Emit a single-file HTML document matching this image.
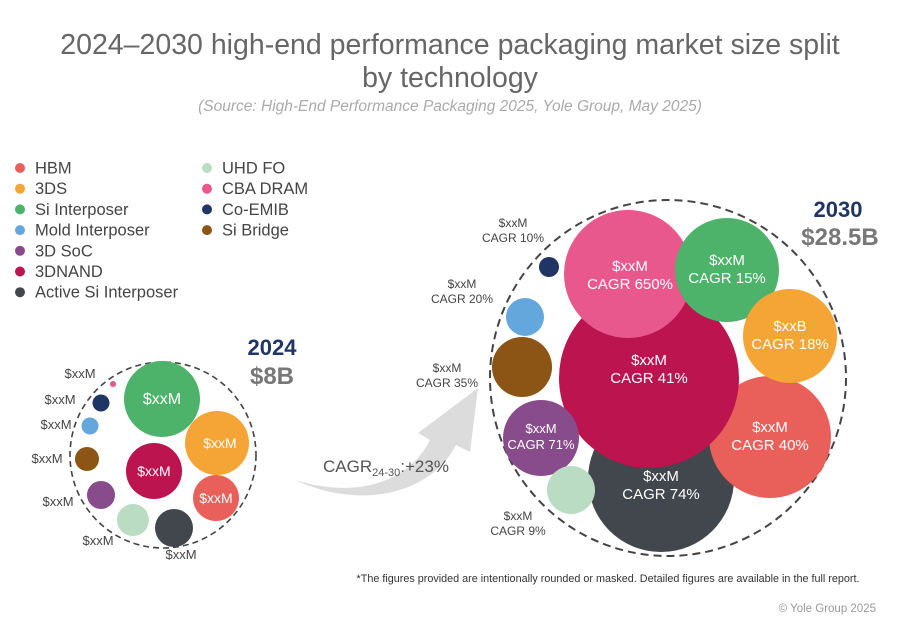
<!DOCTYPE html>
<html><head><meta charset="utf-8">
<style>
html,body{margin:0;padding:0;background:#fff;}
body{width:900px;height:630px;overflow:hidden;font-family:"Liberation Sans",sans-serif;}
svg{display:block}
</style></head>
<body>
<svg id="chart" width="900" height="630" viewBox="0 0 900 630" xmlns="http://www.w3.org/2000/svg">
<text x="450" y="54" text-anchor="middle" font-size="28.5" fill="#666">2024–2030 high-end performance packaging market size split</text>
<text x="450" y="87" text-anchor="middle" font-size="28.5" fill="#666">by technology</text>
<text x="450" y="111" text-anchor="middle" font-size="15.5" font-style="italic" fill="#aaa">(Source: High-End Performance Packaging 2025, Yole Group, May 2025)</text>
<g id="legend"></g>
<path d="M295,480 C360,500 410,480 430,440 L418,433 L478,388 L470,452 L456,445 C430,495 360,510 295,480 Z" fill="#dcdcdc"/>
<text x="323" y="472" font-size="17" fill="#555">CAGR<tspan font-size="11" dy="4">24-30</tspan><tspan dy="-4">:+23%</tspan></text>
<circle cx="163" cy="455" r="93" fill="none" stroke="#444" stroke-width="1.6" stroke-dasharray="6,4"/>
<circle cx="668" cy="378" r="178" fill="none" stroke="#444" stroke-width="2" stroke-dasharray="8,5"/>
<g id="b24"></g>
<g id="b30"></g>
<text x="272" y="355" text-anchor="middle" font-size="22" font-weight="bold" fill="#1f3564">2024</text>
<text x="272" y="384" text-anchor="middle" font-size="24" font-weight="bold" fill="#777">$8B</text>
<text x="838" y="217" text-anchor="middle" font-size="22" font-weight="bold" fill="#1f3564">2030</text>
<text x="840" y="245" text-anchor="middle" font-size="24" font-weight="bold" fill="#777">$28.5B</text>
<text x="608" y="582" text-anchor="middle" font-size="10.8" fill="#333">*The figures provided are intentionally rounded or masked. Detailed figures are available in the full report.</text>
<text x="876" y="612" text-anchor="end" font-size="11.5" fill="#999">© Yole Group 2025</text>
</svg>
<script>
const technologies=["HBM","3DS","Si Interposer","Mold Interposer","3D SoC","3DNAND","Active Si Interposer","UHD FO","CBA DRAM","Co-EMIB","Si Bridge"];
const colors=["#e9605a","#f4a535","#4db26a","#63a7dc","#884c8c","#bb144e","#41474d","#b9dcc2","#e8588d","#1f3564","#8c5415"];
const values2024=[865,1675,2362,118,321,1283,591,419,15,118,236];
const values2030=[3591,2132,2609,348,1393,7817,5142,556,3953,97,869];
const cagr2030=["40%","18%","15%","20%","71%","41%","74%","9%","650%","10%","35%"];
const value2030Labels=["$xxM","$xxB","$xxM","$xxM","$xxM","$xxM","$xxM","$xxM","$xxM","$xxM","$xxM"];
</script>
<script>
const NS="http://www.w3.org/2000/svg";
function mk(tag,attrs,parent){const e=document.createElementNS(NS,tag);for(const k in attrs)e.setAttribute(k,attrs[k]);parent.appendChild(e);return e;}
const r24=v=>0.782*Math.sqrt(v);
const r30=v=>1.018*Math.sqrt(v);
const pos24=[[216,498],[217,443],[162,399],[90,426],[101,495],[154,471],[174,528],[133,520],[113,384],[101,403],[87,459]];
const pos30=[[770,437],[790,336],[727,270],[525,317],[541,438],[649,378],[661,479],[571,490],[628,274],[549,267],[522,367]];
const order30=[6,0,5,8,2,1,4,7,10,3,9];
const lg=document.getElementById('legend');
technologies.forEach((t,i)=>{
  const col=i<7?0:1, row=i<7?i:i-7;
  const x=col?207:20, y=168+row*20.7;
  const c=mk('circle',{cx:x,cy:y,r:5,fill:colors[i]},lg);
  
  
  const tx=mk('text',{x:x+15,y:y+5.5,'font-size':16.5,fill:'#444'},lg);
  tx.textContent=t;
  
  
});
const g24=document.getElementById('b24');
const inside24=[0,1,2,5];
const outLab24={3:[56,429],4:[58,506],6:[181,559],7:[98,545],8:[80,378],9:[60,404],10:[47,463]};
technologies.forEach((t,i)=>{
  const [x,y]=pos24[i];
  const c=mk('circle',{cx:x,cy:y,r:r24(values2024[i]),fill:colors[i]},g24);
  
  
  let tx;
  if(inside24.includes(i)){tx=mk('text',{x:x+(i==1?3:0),y:y+5,'text-anchor':'middle','font-size':i==2?16:14,fill:'#fff'},g24);}
  else{const [lx,ly]=outLab24[i];tx=mk('text',{x:lx,y:ly,'text-anchor':'middle','font-size':13,fill:'#444'},g24);}
  tx.textContent='$xxM';
  
  
});
const g30=document.getElementById('b30');
const outLab30={3:[462,288],7:[518,520],9:[513,227],10:[447,372]};
order30.forEach(i=>{
  const [x,y]=pos30[i];
  const c=mk('circle',{cx:x,cy:y,r:r30(values2030[i]),fill:colors[i]},g30);
  
  
});
technologies.forEach((t,i)=>{
  const [x,y]=pos30[i];
  let lx,ly,fs,fill;
  if(outLab30[i]){[lx,ly]=outLab30[i];fs=12;fill='#444';}
  else{lx=x;ly=y-5;fs=i==4?13:15;fill='#fff';
    if(i==8){lx=x+2;ly=y-3;} if(i==6){ly=y+2;} if(i==5){ly=y-13;}}
  const a=mk('text',{x:lx,y:ly,'text-anchor':'middle','font-size':fs,fill:fill},g30);
  a.textContent=value2030Labels[i];
  
  
  const b=mk('text',{x:lx,y:ly+fs+3,'text-anchor':'middle','font-size':fs,fill:fill},g30);
  b.textContent='CAGR '+cagr2030[i];
  
  
});
</script>
</body></html>
